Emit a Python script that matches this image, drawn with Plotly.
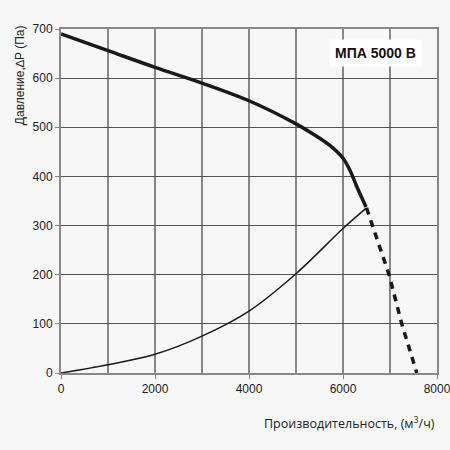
import plotly.graph_objects as go

fan_x = [0, 1000, 2000, 3000, 4000, 5000, 5370, 5720, 6000, 6150, 6290, 6490]
fan_y = [690, 656, 622, 590, 554, 507, 486, 463, 437, 412, 380, 338]
dash_x = [6500, 6980, 7250, 7570]
dash_y = [336, 200, 100, 0]
sys_x = [0, 1000, 2000, 3000, 4000, 5000, 6000, 6500]
sys_y = [0, 17, 38, 75, 126, 202, 294, 336]
x_ticks = [0, 2000, 4000, 6000, 8000]
y_ticks = [0, 100, 200, 300, 400, 500, 600, 700]

fig = go.Figure()
fig.add_trace(go.Scatter(x=sys_x, y=sys_y, mode="lines", line=dict(color="#1a1a1a", width=1.5, shape="spline"), showlegend=False))
fig.add_trace(go.Scatter(x=fan_x, y=fan_y, mode="lines", line=dict(color="#1a1a1a", width=3.5, shape="spline", smoothing=1.0), showlegend=False))
fig.add_trace(go.Scatter(x=dash_x, y=dash_y, mode="lines", line=dict(color="#1a1a1a", width=3.5, dash="7px,6px"), showlegend=False))

fig.add_annotation(x=6700, y=652, text="<b>МПА 5000 B</b>", showarrow=False,
                   font=dict(family="Liberation Sans, Arial", size=14, color="#111"),
                   bgcolor="white", borderpad=5)

fig.add_annotation(xref="paper", yref="paper", x=1, y=-0.113, xanchor="right", yanchor="top",
                   text="Производительность, (м<sup>3</sup>/ч)", showarrow=False,
                   font=dict(family="Open Sans", size=12.5, color="#222"))
fig.add_annotation(xref="paper", yref="paper", x=-0.109, y=1.017, xanchor="center", yanchor="top",
                   text="Давление,∆P (Па)", textangle=-90, showarrow=False,
                   font=dict(family="Liberation Sans, Arial", size=12, color="#222"))

fig.update_xaxes(range=[0, 8000], tickvals=x_ticks, automargin=False, ticklabeloverflow="allow",
                 showgrid=False, zeroline=False,
                 showline=True, linecolor="#888", linewidth=2, mirror=True,
                 ticks="outside", ticklen=4, tickcolor="#888",
                 tickfont=dict(family="Liberation Sans, Arial", size=12, color="#222"))
fig.update_yaxes(range=[0, 700], tickvals=y_ticks, automargin=False,
                 showgrid=True, gridcolor="#555", gridwidth=1, zeroline=False,
                 showline=True, linecolor="#888", linewidth=2, mirror=True,
                 ticks="outside", ticklen=4, tickcolor="#888",
                 tickfont=dict(family="Liberation Sans, Arial", size=12, color="#222"))

for gx in range(1000, 8000, 1000):
    fig.add_shape(type="line", x0=gx, x1=gx, y0=0, y1=700, xref="x", yref="y",
                  line=dict(color="#888", width=2), layer="below")

fig.update_layout(width=450, height=450, margin=dict(l=61, r=13, t=29, b=77),
                  paper_bgcolor="#f7f7f7", plot_bgcolor="#f7f7f7")

fig.write_html("out.html", config={"displayModeBar": False},
               post_script="document.body.style.margin='0';document.body.style.background='#f7f7f7';document.body.style.overflow='hidden';")
